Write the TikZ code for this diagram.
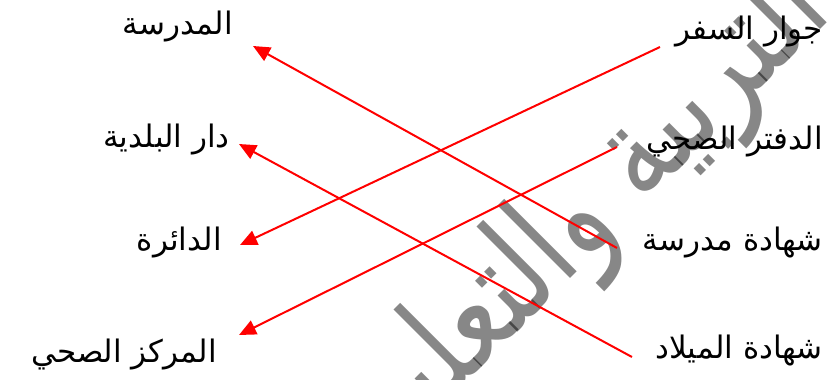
\documentclass[tikz,border=0pt]{standalone}
\usepackage{fontspec}
\usepackage{graphicx}
\TeXXeTstate=1
\newfontfamily\arabicfont[Script=Arabic]{DejaVu Sans}
\usetikzlibrary{arrows.meta}
\definecolor{arrowred}{RGB}{255,0,0}
\tikzset{
  lbl/.style={inner sep=0pt, font=\arabicfont\fontsize{31}{36}\selectfont, text=black},
  lleft/.style={lbl, anchor=east},
  lright/.style={lbl, anchor=east},
  link/.style={draw=arrowred, line width=2pt, -{Triangle[length=17pt,width=15pt]}},
  watermark/.style={inner sep=0pt, text=black, text opacity=0.47, rotate=45,
    font=\arabicfont\fontsize{135}{150}\selectfont}
}
\begin{document}
\begin{tikzpicture}[x=1pt,y=-1pt]
\useasboundingbox (0,0) rectangle (827,380);
\begin{scope}
\clip (0,0) rectangle (827,380);
\node[watermark] (wm) at (585,215) {\scalebox{0.78}[1]{\beginR التربية والتعليم\endR}};
\end{scope}
% left labels
\node[lleft] (madrasa) at (233,27) {\beginR المدرسة\endR};
\node[lleft] (baladiya) at (230,140) {\beginR دار البلدية\endR};
\node[lleft] (daira) at (222,243) {\beginR الدائرة\endR};
\node[lleft] (markaz) at (217,355) {\beginR المركز الصحي\endR};
% right labels
\node[lright] (jawaz) at (823,32) {\beginR جوار السفر\endR};
\node[lright] (daftar) at (823,142) {\beginR الدفتر الصحي\endR};
\node[lright] (shmadrasa) at (823,243) {\beginR شهادة مدرسة\endR};
\node[lright] (milad) at (823,350) {\beginR شهادة الميلاد\endR};
% connector ends
\coordinate (s1) at (660,47);   \coordinate (t1) at (240,245);
\coordinate (s2) at (617,147);  \coordinate (t2) at (239,335);
\coordinate (s3) at (617,248);  \coordinate (t3) at (253,46);
\coordinate (s4) at (632,357);  \coordinate (t4) at (239,144);
\draw[link] (s1) -- (t1);
\draw[link] (s2) -- (t2);
\draw[link] (s3) -- (t3);
\draw[link] (s4) -- (t4);
\end{tikzpicture}
\end{document}
